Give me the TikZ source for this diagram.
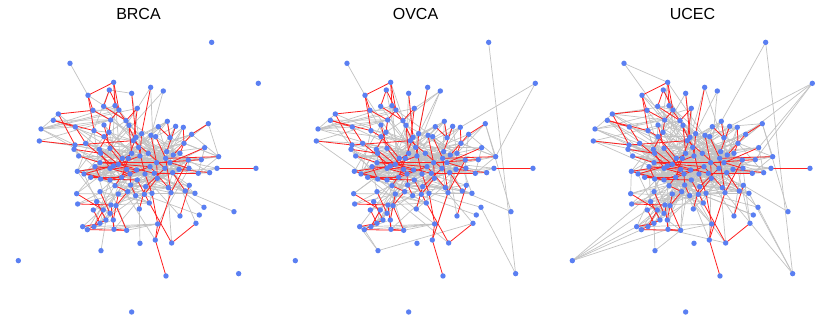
\documentclass[tikz,border=0pt]{standalone}
\usepackage{fontspec}
\setsansfont{Liberation Sans}
\usepackage{xcolor}
\usepackage{tikz}
\usetikzlibrary{positioning}
\definecolor{dotblue}{HTML}{5A7FF2}
\definecolor{greyx}{HTML}{C2C2C2}
\definecolor{redx}{HTML}{FF1F1F}
\tikzset{
  gene/.style={circle,fill=dotblue,inner sep=0pt,minimum size=5.4pt},
  weak/.style={greyx,line width=0.7pt},
  strong/.style={redx,line width=0.8pt},
  ttl/.style={font=\sffamily\fontsize{16}{18}\selectfont,anchor=base}
}
% layout shared by the three panels (units: 1/3 px)
\newcommand\genes{341/157,452/172,490/183,395/190,264/196,328/180,279/241,311/229,345/227,357/240,
412/235,175/252,160/271,123/297,118/333,226/291,282/302,332/270,312/285,378/272,
387/286,327/307,312/320,425/311,408/322,400/332,453/316,467/320,475/290,502/274,
527/289,550/292,575/313,510/323,552/340,625/281,614/353,656/380,651/415,629/428,
604/389,595/430,225/345,222/358,257/340,236/378,298/358,302/370,330/355,367/385,
385/385,416/352,445/370,420/378,395/370,300/398,285/410,340/408,355/403,330/415,
232/424,252/432,272/442,302/447,330/450,365/442,380/418,410/420,390/432,435/432,
450/410,470/398,497/385,500/365,520/375,540/370,510/398,495/415,463/430,518/428,
537/418,567/415,565/390,472/445,345/467,392/465,412/450,437/470,456/490,505/473,
513/488,556/483,568/466,585/490,230/491,233/522,300/485,355/492,383/485,407/497,
433/493,448/519,290/515,280/540,310/540,333/525,348/527,330/550,318/570,300/580,
340/570,248/590,262/599,282/590,342/598,380/601,418/537,473/582,466/630,515/639,
540/558,598/555,588/580,612/532,768/415,498/738,702/545,420/640,303/662,210/100,
635/37,775/160,55/692,716/731,395/846}
\newcommand\redpairs{5/1,1/9,1/10,6/10,6/8,5/7,5/17,7/18,8/20,9/21,10/18,4/25,2/24,11/20,11/26,
12/43,12/7,13/17,13/16,15/43,16/45,17/23,18/22,19/49,20/52,21/55,22/47,23/50,24/54,25/51,
26/53,27/72,28/73,29/34,30/34,31/74,32/35,36/33,33/75,35/76,37/77,38/73,41/72,39/125,40/81,
42/79,43/26,44/48,45/58,46/56,47/59,48/60,49/67,50/69,51/66,52/70,53/78,54/58,55/60,56/71,
57/67,58/68,59/79,60/69,61/65,62/59,63/66,64/87,65/68,66/71,67/85,69/86,70/89,71/90,72/84,
73/91,77/82,78/88,80/92,83/91,84/101,85/99,86/100,87/102,88/117,89/118,91/119,93/121,95/105,
96/106,97/108,98/111,99/107,103/109,104/110,105/114,106/115,107/116,112/110,113/116,115/116,
111/115,109/113,119/126,120/123,120/102,118/119,57/64,62/65,61/58,56/77}
\newcommand\extrab{130/5,14/16,14/43,3/27,2/11,127/92,128/117,129/109,6/4,17/45}
\newcommand\extrao{130/5,14/16,15/45,3/11,3/24,3/20,131/134,132/32,132/38,36/127,124/134,
127/92,129/112,129/113,129/123,14/26}
\newcommand\extrau{130/1,130/18,131/30,131/134,132/31,132/33,132/41,132/37,133/112,133/113,
133/115,133/97,133/104,134/124,134/94,134/91,127/36,127/93,129/110,129/116,14/45,15/49,
12/18,13/50}

\begin{document}
\begin{tikzpicture}[x=1pt,y=-1pt]
\useasboundingbox (0,0) rectangle (830,332);
\foreach \p/\sx/\lbl/\ka/\reps in {b/0/BRCA/7/1,o/277/OVCA/11/1,u/554/UCEC/5/2}{
  \node[ttl] (\p-title) at (\sx+138.5,19.5) {\lbl};
  \begin{scope}[shift={(\sx,30)},x=0.3333pt,y=-0.3333pt]
    \foreach \x/\y [count=\i] in \genes
      \coordinate (\p\i) at (\x,\y);
    % grey links: into the middle, to near neighbours, then each panel's own
    \foreach \r in {1,...,\reps}
      \foreach \i in {1,...,124}{
        \pgfmathtruncatemacro\h{50+mod((\ka+6*\r)*\i+3*\r,35)}
        \draw[weak] (\p\i) -- (\p\h);
      }
    \foreach \i in {20,...,95}{
      \pgfmathtruncatemacro\h{50+mod((\ka+10)*\i+5,35)}
      \draw[weak] (\p\i) -- (\p\h);
    }
    \foreach \i in {7,...,116}{
      \pgfmathtruncatemacro\h{\i+2+mod(\i*\ka,4)}
      \draw[weak] (\p\i) -- (\p\h);
    }
    \expandafter\let\expandafter\extra\csname extra\p\endcsname
    \foreach \a/\b in \extra
      \draw[weak] (\p\a) -- (\p\b);
    % red links, same in every panel
    \foreach \a/\b in \redpairs
      \draw[strong] (\p\a) -- (\p\b);
    \foreach \i in {1,...,135}
      \node[gene] (\p-g\i) at (\p\i) {};
  \end{scope}
}
\end{tikzpicture}
\end{document}
